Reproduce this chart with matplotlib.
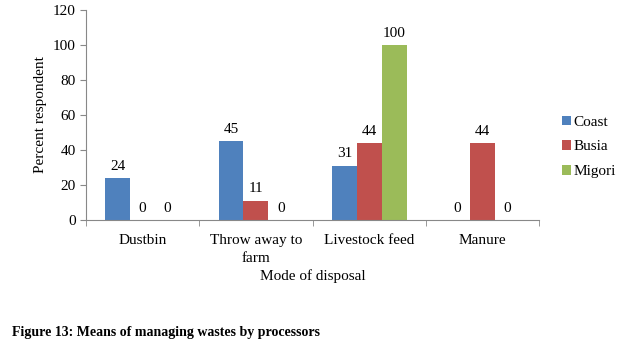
import numpy as np
import matplotlib
matplotlib.use('Agg')
import matplotlib.pyplot as plt

plt.rcParams['font.family'] = ['Liberation Serif', 'DejaVu Serif']

categories = ['Dustbin', 'Throw away to\nfarm', 'Livestock feed', 'Manure']
series = ['Coast', 'Busia', 'Migori']
coast = [24, 45, 31, 0]
busia = [0, 11, 44, 44]
migori = [0, 0, 100, 0]
colors = ['#4F81BD', '#C0504D', '#9BBB59']

fig = plt.figure(figsize=(6.19, 3.48), dpi=100)
ax = fig.add_axes([0.139, 0.368, 0.732, 0.603])

x = np.arange(len(categories))
w = 0.22
for i, (vals, name) in enumerate(zip([coast, busia, migori], series)):
    pos = x + (i - 1) * w
    ax.bar(pos, vals, width=w, color=colors[i], label=name)
    for p, v in zip(pos, vals):
        ax.text(p, v + 3, str(v), ha='center', va='bottom', fontsize=11)

ax.set_xlim(-0.5, len(categories) - 0.5)
ax.set_ylim(0, 120)
ax.set_yticks(range(0, 121, 20))
ax.set_xticks(x)
ax.set_xticklabels(categories, fontsize=11, linespacing=1.5)
ax.set_xticks(np.arange(-0.5, len(categories)), minor=True)
ax.tick_params(axis='x', which='major', length=0, pad=10)
ax.tick_params(axis='x', which='minor', length=4, color='#888888')
ax.tick_params(axis='y', length=4, color='#888888', labelsize=11)

for s in ['top', 'right']:
    ax.spines[s].set_visible(False)
for s in ['left', 'bottom']:
    ax.spines[s].set_color('#888888')

ax.set_ylabel('Percent respondent', fontsize=11)
ax.set_xlabel('Mode of disposal', fontsize=11, labelpad=3)

ax.legend(loc='center left', bbox_to_anchor=(0.895, 0.578), bbox_transform=fig.transFigure,
          frameon=False, fontsize=11, handlelength=0.6, handleheight=0.6,
          handletextpad=0.2, labelspacing=0.75, borderpad=0)

fig.text(0.019, 0.045, 'Figure 13: Means of managing wastes by processors',
         fontsize=10, fontweight='bold', ha='left', va='center')

fig.savefig('out.png', dpi=100)
